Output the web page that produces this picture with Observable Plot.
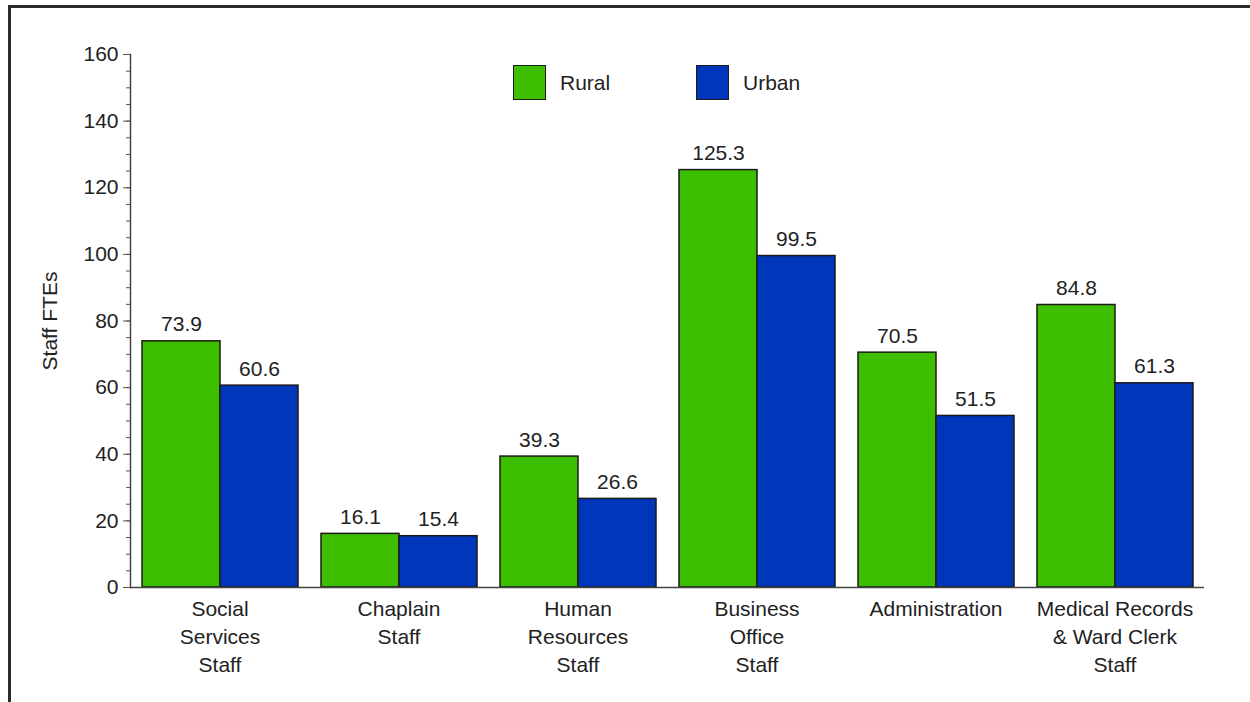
<!DOCTYPE html>
<html>
<head>
<meta charset="utf-8">
<script src="https://cdn.jsdelivr.net/npm/d3@7"></script>
<script src="https://cdn.jsdelivr.net/npm/@observablehq/plot@0.6"></script>
<style>
  html, body { margin: 0; padding: 0; background: #fff; }
  #wrap { position: relative; width: 1250px; height: 702px; overflow: hidden; font-family: "Liberation Sans", Arial, sans-serif; }
  #border { position: absolute; left: 8px; top: 5px; right: -10px; bottom: -10px; border-top: 3px solid #2b2b2b; border-left: 3px solid #2b2b2b; }
  #chart { position: absolute; left: 0; top: 0; }
  .legend { position: absolute; top: 65px; display: flex; align-items: center; font-size: 21px; color: #222; }
  .sw { width: 31px; height: 33px; border: 1.5px solid #1a1a1a; margin-right: 14px; }
</style>
</head>
<body>
<div id="wrap">
  <div id="chart"></div>
  <div id="border"></div>
</div>
<script>
const categories = ["Social\nServices\nStaff", "Chaplain\nStaff", "Human\nResources\nStaff", "Business\nOffice\nStaff", "Administration", "Medical Records\n& Ward Clerk\nStaff"];
const series = ["Rural", "Urban"];
const colors = ["#3dbf00", "#0036b9"];
const rural = [73.9, 16.1, 39.3, 125.3, 70.5, 84.8];
const urban = [60.6, 15.4, 26.6, 99.5, 51.5, 61.3];
const yTicks = [0, 20, 40, 60, 80, 100, 120, 140, 160];
const yLabel = "Staff FTEs";

const data = categories.flatMap((c, i) => [
  {category: c, series: series[0], value: rural[i]},
  {category: c, series: series[1], value: urban[i]}
]);

const chart = Plot.plot({
  width: 1250,
  height: 702,
  marginLeft: 127,
  marginRight: 44,
  marginTop: 54,
  marginBottom: 115,
  style: {fontFamily: "'Liberation Sans', Arial, sans-serif", fontSize: "21px", color: "#222", background: "transparent"},
  fx: {domain: categories, padding: 0},
  x: {domain: series, paddingInner: 0, paddingOuter: 0.145, axis: null},
  y: {domain: [0, 160]},
  color: {domain: series, range: colors},
  marks: [
    Plot.barY(data, {fx: "category", x: "series", y: "value", fill: "series", stroke: "#1a1a1a", strokeWidth: 1.5}),
    Plot.text(data, {fx: "category", x: "series", y: "value", text: d => d.value.toFixed(1), lineAnchor: "bottom", dy: -10, fontSize: 21, fill: "#222"}),
    Plot.ruleY([0], {stroke: "#444", strokeWidth: 1.5}),
    Plot.axisY(d3.range(0, 161, 5), {tickSize: 4, text: null, stroke: "#555", label: null}),
    Plot.axisY(yTicks, {tickSize: 7, tickPadding: 5, stroke: "#555", fontSize: 21, fill: "#222", label: null}),
    Plot.text([yLabel], {frameAnchor: "left", facetAnchor: "left", textAnchor: "middle", lineAnchor: "middle", rotate: -90, dx: -80, fontSize: 21, fill: "#222"}),
    Plot.frame({anchor: "left", facetAnchor: "left", stroke: "#444", strokeWidth: 1.5}),
    Plot.axisFx({anchor: "bottom", tickSize: 0, tickPadding: 9, fontSize: 21, fill: "#222", lineHeight: 1.33, label: null})
  ]
});
document.getElementById("chart").appendChild(chart);

const wrap = document.getElementById("wrap");
const legendX = [513, 696];
series.forEach((s, i) => {
  const d = document.createElement("div");
  d.className = "legend";
  d.style.left = legendX[i] + "px";
  d.innerHTML = `<div class="sw" style="background:${colors[i]}"></div><span>${s}</span>`;
  wrap.appendChild(d);
});
</script>
</body>
</html>
